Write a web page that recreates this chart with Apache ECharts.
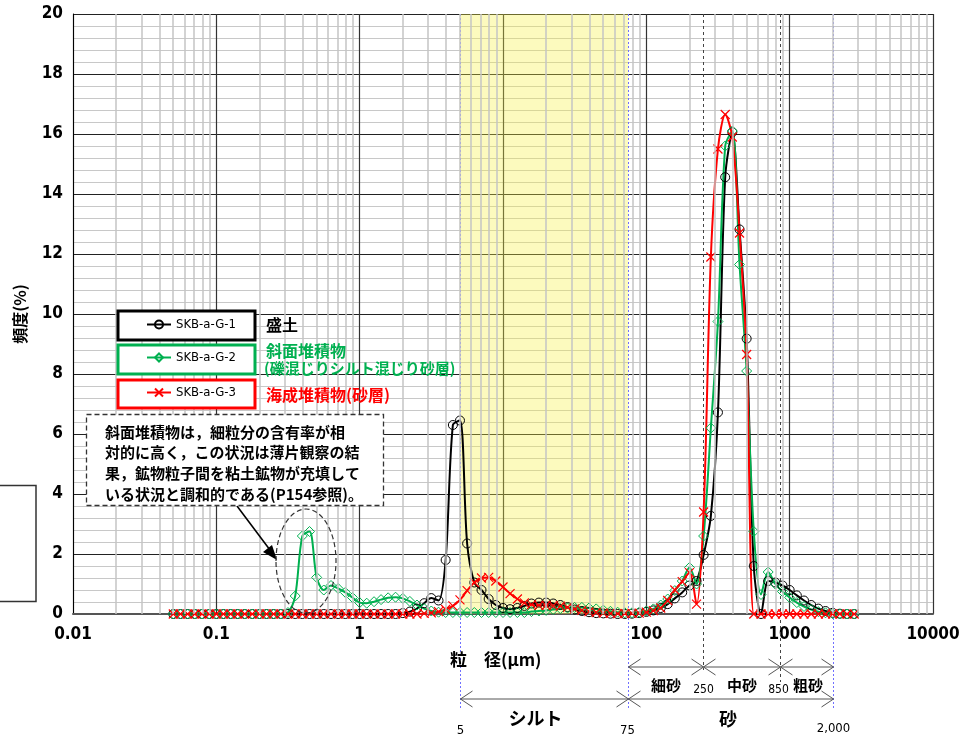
<!DOCTYPE html>
<html><head><meta charset="utf-8">
<script src="https://cdn.jsdelivr.net/npm/echarts@6/dist/echarts.min.js"></script>
<style>html,body{margin:0;padding:0;background:#fff}#c{width:972px;height:736px}</style>
</head><body><div id="c"></div>
<script>
// particle sizes (µm)
const sizes = [
 0.0501, 0.0562, 0.0631, 0.0708, 0.0794, 0.0891, 0.100, 0.112, 0.126, 0.141,
 0.158, 0.178, 0.200, 0.224, 0.251, 0.282, 0.316, 0.355, 0.398, 0.447,
 0.501, 0.562, 0.631, 0.708, 0.794, 0.891, 1.00, 1.12, 1.26, 1.41,
 1.58, 1.78, 2.00, 2.24, 2.51, 2.82, 3.16, 3.55, 3.98, 4.47,
 5.01, 5.62, 6.31, 7.08, 7.94, 8.91, 10.0, 11.2, 12.6, 14.1,
 15.8, 17.8, 20.0, 22.4, 25.1, 28.2, 31.6, 35.5, 39.8, 44.7,
 50.1, 56.2, 63.1, 70.8, 79.4, 89.1, 100, 112, 126, 141,
 158, 178, 200, 224, 251, 282, 316, 355, 398, 447,
 501, 562, 631, 708, 794, 891, 1000, 1122, 1259, 1413,
 1585, 1778, 1995, 2239, 2512, 2818
];
const seriesNames = ['SKB-a-G-1', 'SKB-a-G-2', 'SKB-a-G-3'];
// frequency (%)
const g1 = [
 0,0,0,0,0,0,0,0,0,0,
 0,0,0,0,0,0,0,0,0,0,
 0,0,0,0,0,0,0,0,0,0,
 0, 0, 0.03, 0.08, 0.18, 0.36, 0.53, 0.45, 1.8, 6.3,
 6.45, 2.35, 1.05, 0.8, 0.5, 0.3, 0.2, 0.16, 0.2, 0.27,
 0.35, 0.38, 0.38, 0.35, 0.3, 0.23, 0.15, 0.1, 0.06, 0.03,
 0.02, 0.01, 0, 0, 0.01, 0.03, 0.07, 0.12, 0.2, 0.33,
 0.52, 0.72, 0.95, 1.1, 1.97, 3.27, 6.72, 14.56, 16.06, 12.82,
 9.18, 1.6, 0, 1.1, 1.05, 0.95, 0.8, 0.62, 0.45, 0.3,
 0.18, 0.1, 0.04, 0.01, 0, 0
];
const g2 = [
 0,0,0,0,0,0,0,0,0,0,
 0,0,0,0,0,0, 0.05, 0.6, 2.6, 2.75,
 1.22, 0.8, 0.95, 0.85, 0.72, 0.55, 0.38, 0.36, 0.41, 0.48,
 0.54, 0.56, 0.52, 0.42, 0.3, 0.18, 0.1, 0.06, 0.05, 0.05,
 0.05, 0.05, 0.05, 0.05, 0.05, 0.05, 0.05, 0.05, 0.05, 0.05,
 0.08, 0.1, 0.12, 0.15, 0.18, 0.2, 0.22, 0.22, 0.2, 0.17,
 0.13, 0.09, 0.06, 0.04, 0.04, 0.06, 0.1, 0.17, 0.3, 0.5,
 0.78, 1.1, 1.55, 1.0, 2.6, 6.2, 9.75, 15.6, 16.1, 11.65,
 8.1, 2.75, 0.65, 1.4, 1.0, 0.75, 0.55, 0.38, 0.25, 0.15,
 0.08, 0.04, 0.01, 0, 0, 0
];
const g3 = [
 0,0,0,0,0,0,0,0,0,0,
 0,0,0,0,0,0,0,0,0,0,
 0,0,0,0,0,0,0,0,0,0,
 0, 0, 0, 0, 0, 0.02, 0.04, 0.08, 0.15, 0.27,
 0.47, 0.78, 1.05, 1.2, 1.22, 1.1, 0.9, 0.68, 0.5, 0.37,
 0.31, 0.29, 0.29, 0.28, 0.26, 0.22, 0.17, 0.12, 0.08, 0.05,
 0.03, 0.02, 0.01, 0.01, 0.02, 0.03, 0.06, 0.11, 0.2, 0.45,
 0.8, 1.08, 1.38, 0.33, 3.4, 11.9, 15.5, 16.65, 15.9, 12.7,
 8.65, 0, 0, 0, 0, 0, 0, 0, 0, 0,
 0, 0, 0, 0, 0, 0
];
const layerLabels = ['盛土', '斜面堆積物', '(礫混じりシルト混じり砂層)', '海成堆積物(砂層)'];
const noteLines = [
 '斜面堆積物は，細粒分の含有率が相',
 '対的に高く，この状況は薄片観察の結',
 '果，鉱物粒子間を粘土鉱物が充填して',
 'いる状況と調和的である(P154参照)。'
];
const decades = [0.01, 0.1, 1, 10, 100, 1000];
const minorMultipliers = [2, 3, 4, 5, 6, 7, 8, 9];
const siltRange = [5, 75];
const fineSand = [75, 250], midSand = [250, 850], coarseSand = [850, 2000], sandRange = [75, 2000];

const GREEN = '#00B050', RED = '#FF0000';
const NUM_FONT = '"Liberation Sans Narrow","DejaVu Sans Condensed","Liberation Sans",Arial,sans-serif';
const JP_FONT = '"Noto Sans CJK JP","Noto Sans CJK SC",sans-serif';

const chart = echarts.init(document.getElementById('c'));
const pairs = arr => sizes.map((s, i) => [s, arr[i]]);
const minorLines = [];
decades.forEach(d => minorMultipliers.forEach(m => minorLines.push({ xAxis: +(d * m).toPrecision(3) })));

const common = { type: 'line', smooth: 0.3, symbolSize: 9, z: 3, clip: true };
chart.setOption({
  animation: false,
  grid: { left: 73, top: 14, width: 860, height: 600 },
  xAxis: {
    type: 'log', logBase: 10, min: 0.01, max: 10000, splitNumber: 6,
    axisLine: { onZero: false, lineStyle: { color: '#555', width: 2 } },
    axisTick: { show: false },
    axisLabel: { margin: 12, fontSize: 17, fontWeight: 'bold', color: '#000', fontFamily: NUM_FONT,
      showMinLabel: true, showMaxLabel: true,
      formatter: v => String(Number((+v).toPrecision(3))) },
    splitLine: { show: true, lineStyle: { color: '#333', width: 1.2 } }
  },
  yAxis: {
    type: 'value', min: 0, max: 20, interval: 2,
    axisLine: { show: true, lineStyle: { color: '#000', width: 1 } },
    axisTick: { show: false },
    axisLabel: { margin: 10, fontSize: 17, fontWeight: 'bold', color: '#000', fontFamily: NUM_FONT },
    splitLine: { show: true, lineStyle: { color: '#222', width: 1.2 } },
    minorTick: { show: false, splitNumber: 5 },
    minorSplitLine: { show: true, lineStyle: { color: '#c8c8c8', width: 1 } },
    name: '頻度(%)', nameLocation: 'middle', nameRotate: 90, nameGap: 45,
    nameTextStyle: { fontSize: 16, fontWeight: 'bold', color: '#000', fontFamily: JP_FONT }
  },
  legend: seriesNames.map((n, i) => ({
    data: [n], left: 146, top: [318, 351, 386][i], itemWidth: 24, itemHeight: 10, padding: 0,
    selectedMode: false, z: 100,
    textStyle: { fontSize: 13, fontFamily: NUM_FONT, color: '#000' }
  })),
  series: [
    { type: 'line', data: [], silent: true, z: 1,
      markLine: { silent: true, symbol: 'none', label: { show: false }, animation: false,
        lineStyle: { color: '#c4c4c4', width: 1.5, type: 'solid' }, data: minorLines } },
    Object.assign({}, common, { name: seriesNames[0], data: pairs(g1), symbol: 'circle',
      lineStyle: { color: '#000', width: 2 },
      itemStyle: { color: 'rgba(0,0,0,0)', borderColor: '#000', borderWidth: 1 } }),
    Object.assign({}, common, { name: seriesNames[1], data: pairs(g2), symbol: 'diamond', symbolSize: 10,
      lineStyle: { color: GREEN, width: 2 },
      itemStyle: { color: 'rgba(0,0,0,0)', borderColor: GREEN, borderWidth: 1 } }),
    Object.assign({}, common, { name: seriesNames[2], data: pairs(g3), symbol: 'path://M0,0L10,10M10,0L0,10',
      symbolKeepAspect: true,
      lineStyle: { color: RED, width: 2 },
      itemStyle: { color: 'rgba(0,0,0,0)', borderColor: RED, borderWidth: 1.2 } }),
    { type: 'line', data: [], silent: true, z: 5,
      markArea: { silent: true, itemStyle: { color: 'rgba(246,240,69,0.35)' },
        data: [[{ xAxis: siltRange[0] }, { xAxis: siltRange[1] }]] } }
  ]
});

const px = v => Math.round(chart.convertToPixel({ xAxisIndex: 0 }, v)) + 0.5;
const TOP = 14;
const els = [];
function vline(v, y2, stroke, dash) {
  const X = px(v);
  els.push({ type: 'line', z: 2, silent: true, shape: { x1: X, y1: TOP, x2: X, y2: y2 },
    style: { stroke: stroke, lineWidth: 1, lineDash: dash } });
}
vline(siltRange[0], 708, '#7070ff', [2, 2]);
vline(siltRange[1], 708, '#7070ff', [2, 2]);
vline(coarseSand[1], 708, '#7070ff', [2, 2]);
vline(midSand[0], 670, '#444', [3, 3]);
vline(midSand[1], 682, '#444', [3, 3]);

function dim(range, y) {
  const a = px(range[0]), b = px(range[1]);
  const st = { stroke: '#555', lineWidth: 1, fill: null };
  els.push({ type: 'line', z: 10, shape: { x1: a, y1: y, x2: b, y2: y }, style: st });
  els.push({ type: 'polyline', z: 10, shape: { points: [[a + 12, y - 8], [a, y], [a + 12, y + 8]] }, style: st });
  els.push({ type: 'polyline', z: 10, shape: { points: [[b - 12, y - 8], [b, y], [b - 12, y + 8]] }, style: st });
}
dim(fineSand, 667); dim(midSand, 667); dim(coarseSand, 667);
dim(siltRange, 699); dim(sandRange, 699);

function txt(t, x, y, font, fill, align) {
  els.push({ type: 'text', z: 20, x: x, y: y,
    style: { text: t, font: font, fill: fill || '#000', align: align || 'center', verticalAlign: 'middle' } });
}
const JPB = s => 'bold ' + s + 'px ' + JP_FONT;
txt('細砂', (px(fineSand[0]) + px(fineSand[1])) / 2, 685, JPB(15));
txt('中砂', (px(midSand[0]) + px(midSand[1])) / 2, 685, JPB(15));
txt('粗砂', (px(coarseSand[0]) + px(coarseSand[1])) / 2 + 1, 685, JPB(15));
txt('250', px(midSand[0]), 690, '12px ' + NUM_FONT);
txt('850', px(midSand[1]) - 2, 690, '12px ' + NUM_FONT);
txt('シルト', (px(siltRange[0]) + px(siltRange[1])) / 2 - 9, 718, JPB(18));
txt('砂', (px(sandRange[0]) + px(sandRange[1])) / 2 - 3, 719, JPB(18));
txt('5', px(siltRange[0]), 731, '13px ' + NUM_FONT);
txt('75', px(siltRange[1]) - 1, 731, '13px ' + NUM_FONT);
txt('2,000', px(coarseSand[1]), 729, '13px ' + NUM_FONT);
txt('粒　径(μm)', 450, 660, JPB(17), '#000', 'left');

// legend boxes
const boxes = [[311, 29, '#000'], [345, 29, GREEN], [380, 28, RED]];
boxes.forEach(b => els.push({ type: 'rect', z: 50, shape: { x: 118, y: b[0], width: 137, height: b[1] },
  style: { fill: '#fff', stroke: b[2], lineWidth: 3 } }));
txt(layerLabels[0], 266, 325, JPB(16), '#000', 'left');
txt(layerLabels[1], 266, 351, JPB(16), GREEN, 'left');
txt(layerLabels[2], 264, 368, JPB(15), GREEN, 'left');
txt(layerLabels[3], 266, 395, JPB(16), RED, 'left');

// note box
els.push({ type: 'rect', z: 50, shape: { x: 86.5, y: 414.5, width: 297, height: 91 },
  style: { fill: '#fff', stroke: '#333', lineWidth: 1.3, lineDash: [5, 3] } });
els.push({ type: 'text', z: 60, x: 105, y: 421.5,
  style: { text: noteLines.join('\n'), font: JPB(15), fill: '#000', lineHeight: 20.7, align: 'left', verticalAlign: 'top' } });
// arrow + ellipse
els.push({ type: 'line', z: 20, shape: { x1: 237, y1: 506, x2: 270, y2: 550 }, style: { stroke: '#000', lineWidth: 1.5 } });
els.push({ type: 'polygon', z: 20, shape: { points: [[277, 560], [263, 552], [272, 545]] }, style: { fill: '#000' } });
els.push({ type: 'ellipse', z: 20, shape: { cx: 306, cy: 561, rx: 30, ry: 52 },
  style: { fill: null, stroke: '#333', lineWidth: 1.2, lineDash: [5, 3] } });
// left box
els.push({ type: 'rect', z: 20, shape: { x: -10, y: 485.5, width: 46, height: 116 },
  style: { fill: '#fff', stroke: '#333', lineWidth: 1.5 } });

chart.setOption({ graphic: { elements: els } });
</script></body></html>
